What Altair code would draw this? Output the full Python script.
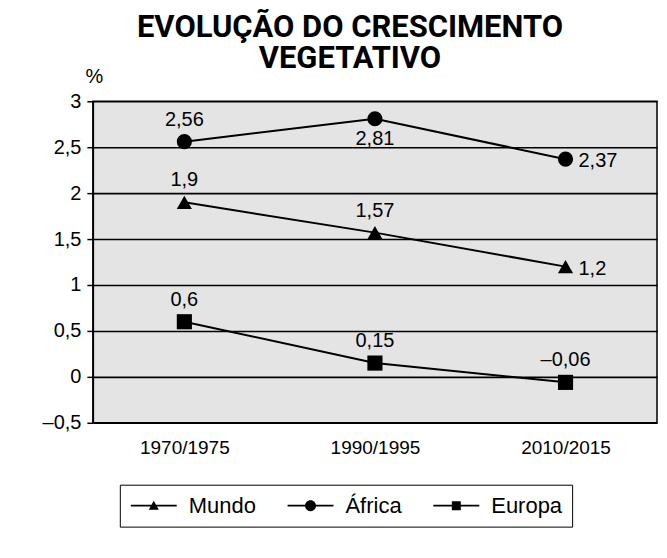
import altair as alt
import pandas as pd

# ---- data ----
periods = ["1970/1975", "1990/1995", "2010/2015"]
series = ["Mundo", "África", "Europa"]
mundo = [1.9, 1.57, 1.2]
africa = [2.56, 2.81, 2.37]
europa = [0.6, 0.15, -0.06]
y_ticks = [-0.5, 0, 0.5, 1, 1.5, 2, 2.5, 3]

values = {"Mundo": mundo, "África": africa, "Europa": europa}
rows = []
for s in series:
    for p, v in zip(periods, values[s]):
        lab = f"{v:g}".replace(".", ",").replace("-", "\u2013")
        rows.append({"period": p, "serie": s, "value": v, "label": lab})
df = pd.DataFrame(rows)

# ---- styling ----
FONT = "Liberation Sans"
label_below = [("África", "1990/1995")]
label_right = [("África", "2010/2015"), ("Mundo", "2010/2015")]
df["pos"] = "above"
for s, p in label_below:
    df.loc[(df.serie == s) & (df.period == p), "pos"] = "below"
for s, p in label_right:
    df.loc[(df.serie == s) & (df.period == p), "pos"] = "right"

shape_plot = ["triangle-up", "circle", "square"]
# legend glyphs: a short line with the marker in the middle (filled shapes only)
LINE = "M-2.3,-0.08H2.3V0.08H-2.3Z"
shape_legend = [
    LINE + "M-0.5,0.4L0,-0.5L0.5,0.4Z",
    LINE + "M-0.55,0A0.55,0.55,0,1,1,0.55,0A0.55,0.55,0,1,1,-0.55,0Z",
    LINE + "M-0.45,-0.45H0.45V0.45H-0.45Z",
]

x = alt.X("period:N", sort=periods,
          scale=alt.Scale(type="point", padding=0.48),
          axis=alt.Axis(title=None, labelAngle=0, labelFont=FONT, labelFontSize=19,
                        labelColor="black", labelPadding=16, domain=False, ticks=False,
                        grid=False))
y = alt.Y("value:Q", scale=alt.Scale(domain=[-0.5, 3], nice=False, zero=False),
          axis=alt.Axis(values=y_ticks, title="%", titleAngle=0, titleAlign="left",
                        titleBaseline="alphabetic", titleX=-8, titleY=-19,
                        titleFont=FONT, titleFontSize=20, titleFontWeight="normal",
                        titleColor="black",
                        labelExpr="replace(replace(format(datum.value, '.1~f'), '.', ','), '\u2212', '\u2013')",
                        labelFont=FONT, labelFontSize=20, labelColor="black",
                        labelPadding=6, tickSize=6, tickColor="black", tickWidth=1.5,
                        domainColor="black", domainWidth=1.5,
                        grid=True, gridColor="black", gridWidth=1.6, gridOpacity=1))

base = alt.Chart(df)

lines = base.mark_line(color="black", strokeWidth=2).encode(
    x=x, y=y, detail="serie:N")

points = base.mark_point(filled=True, color="black", opacity=1).encode(
    x=x, y=y,
    shape=alt.Shape("serie:N", scale=alt.Scale(domain=series, range=shape_plot), legend=None),
    size=alt.Size("serie:N", scale=alt.Scale(domain=series, range=[230, 230, 300]), legend=None),
)

txt_common = dict(font=FONT, fontSize=20, color="black")
above = base.transform_filter(alt.datum.pos == "above").mark_text(
    baseline="alphabetic", align="center", dy=-16, **txt_common).encode(x=x, y=y, text="label:N")
below = base.transform_filter(alt.datum.pos == "below").mark_text(
    baseline="top", align="center", dy=10, **txt_common).encode(x=x, y=y, text="label:N")
right = base.transform_filter(alt.datum.pos == "right").mark_text(
    baseline="middle", align="left", dx=13, dy=2, **txt_common).encode(x=x, y=y, text="label:N")

legend_layer = base.transform_filter("false").mark_point(
    filled=True, color="black", opacity=1).encode(
    x=x, y=y,
    shape=alt.Shape("serie:N", scale=alt.Scale(domain=series, range=shape_legend),
                    legend=alt.Legend(title=None, orient="none", direction="horizontal",
                                      legendX=27, legendY=384,
                                      strokeColor="black", padding=10,
                                      symbolSize=400, symbolOffset=13,
                                      symbolFillColor="black", symbolOpacity=1,
                                      symbolStrokeWidth=0,
                                      labelFont=FONT, labelFontSize=22, labelColor="black",
                                      labelOffset=24, columnPadding=30,
                                      labelLimit=200)),
)

chart = alt.layer(lines, points, above, below, right, legend_layer).resolve_scale(
    shape="independent", size="independent"
).properties(
    width=565, height=322,
    autosize=alt.AutoSizeParams(type="none"),
    padding={"left": 85, "top": 93, "right": 2, "bottom": 135},
    background="white",
    title=alt.TitleParams(
        text=["EVOLUÇÃO DO CRESCIMENTO", "VEGETATIVO"],
        font="Roboto", fontSize=31, fontWeight="bold",
        color="black", anchor="middle", dx=-25, lineHeight=31, offset=-9),
).configure_view(
    fill="#e4e4e4", stroke="black", strokeWidth=1.5
)

chart.save("out.html", embed_options={"renderer": "svg", "actions": False})
